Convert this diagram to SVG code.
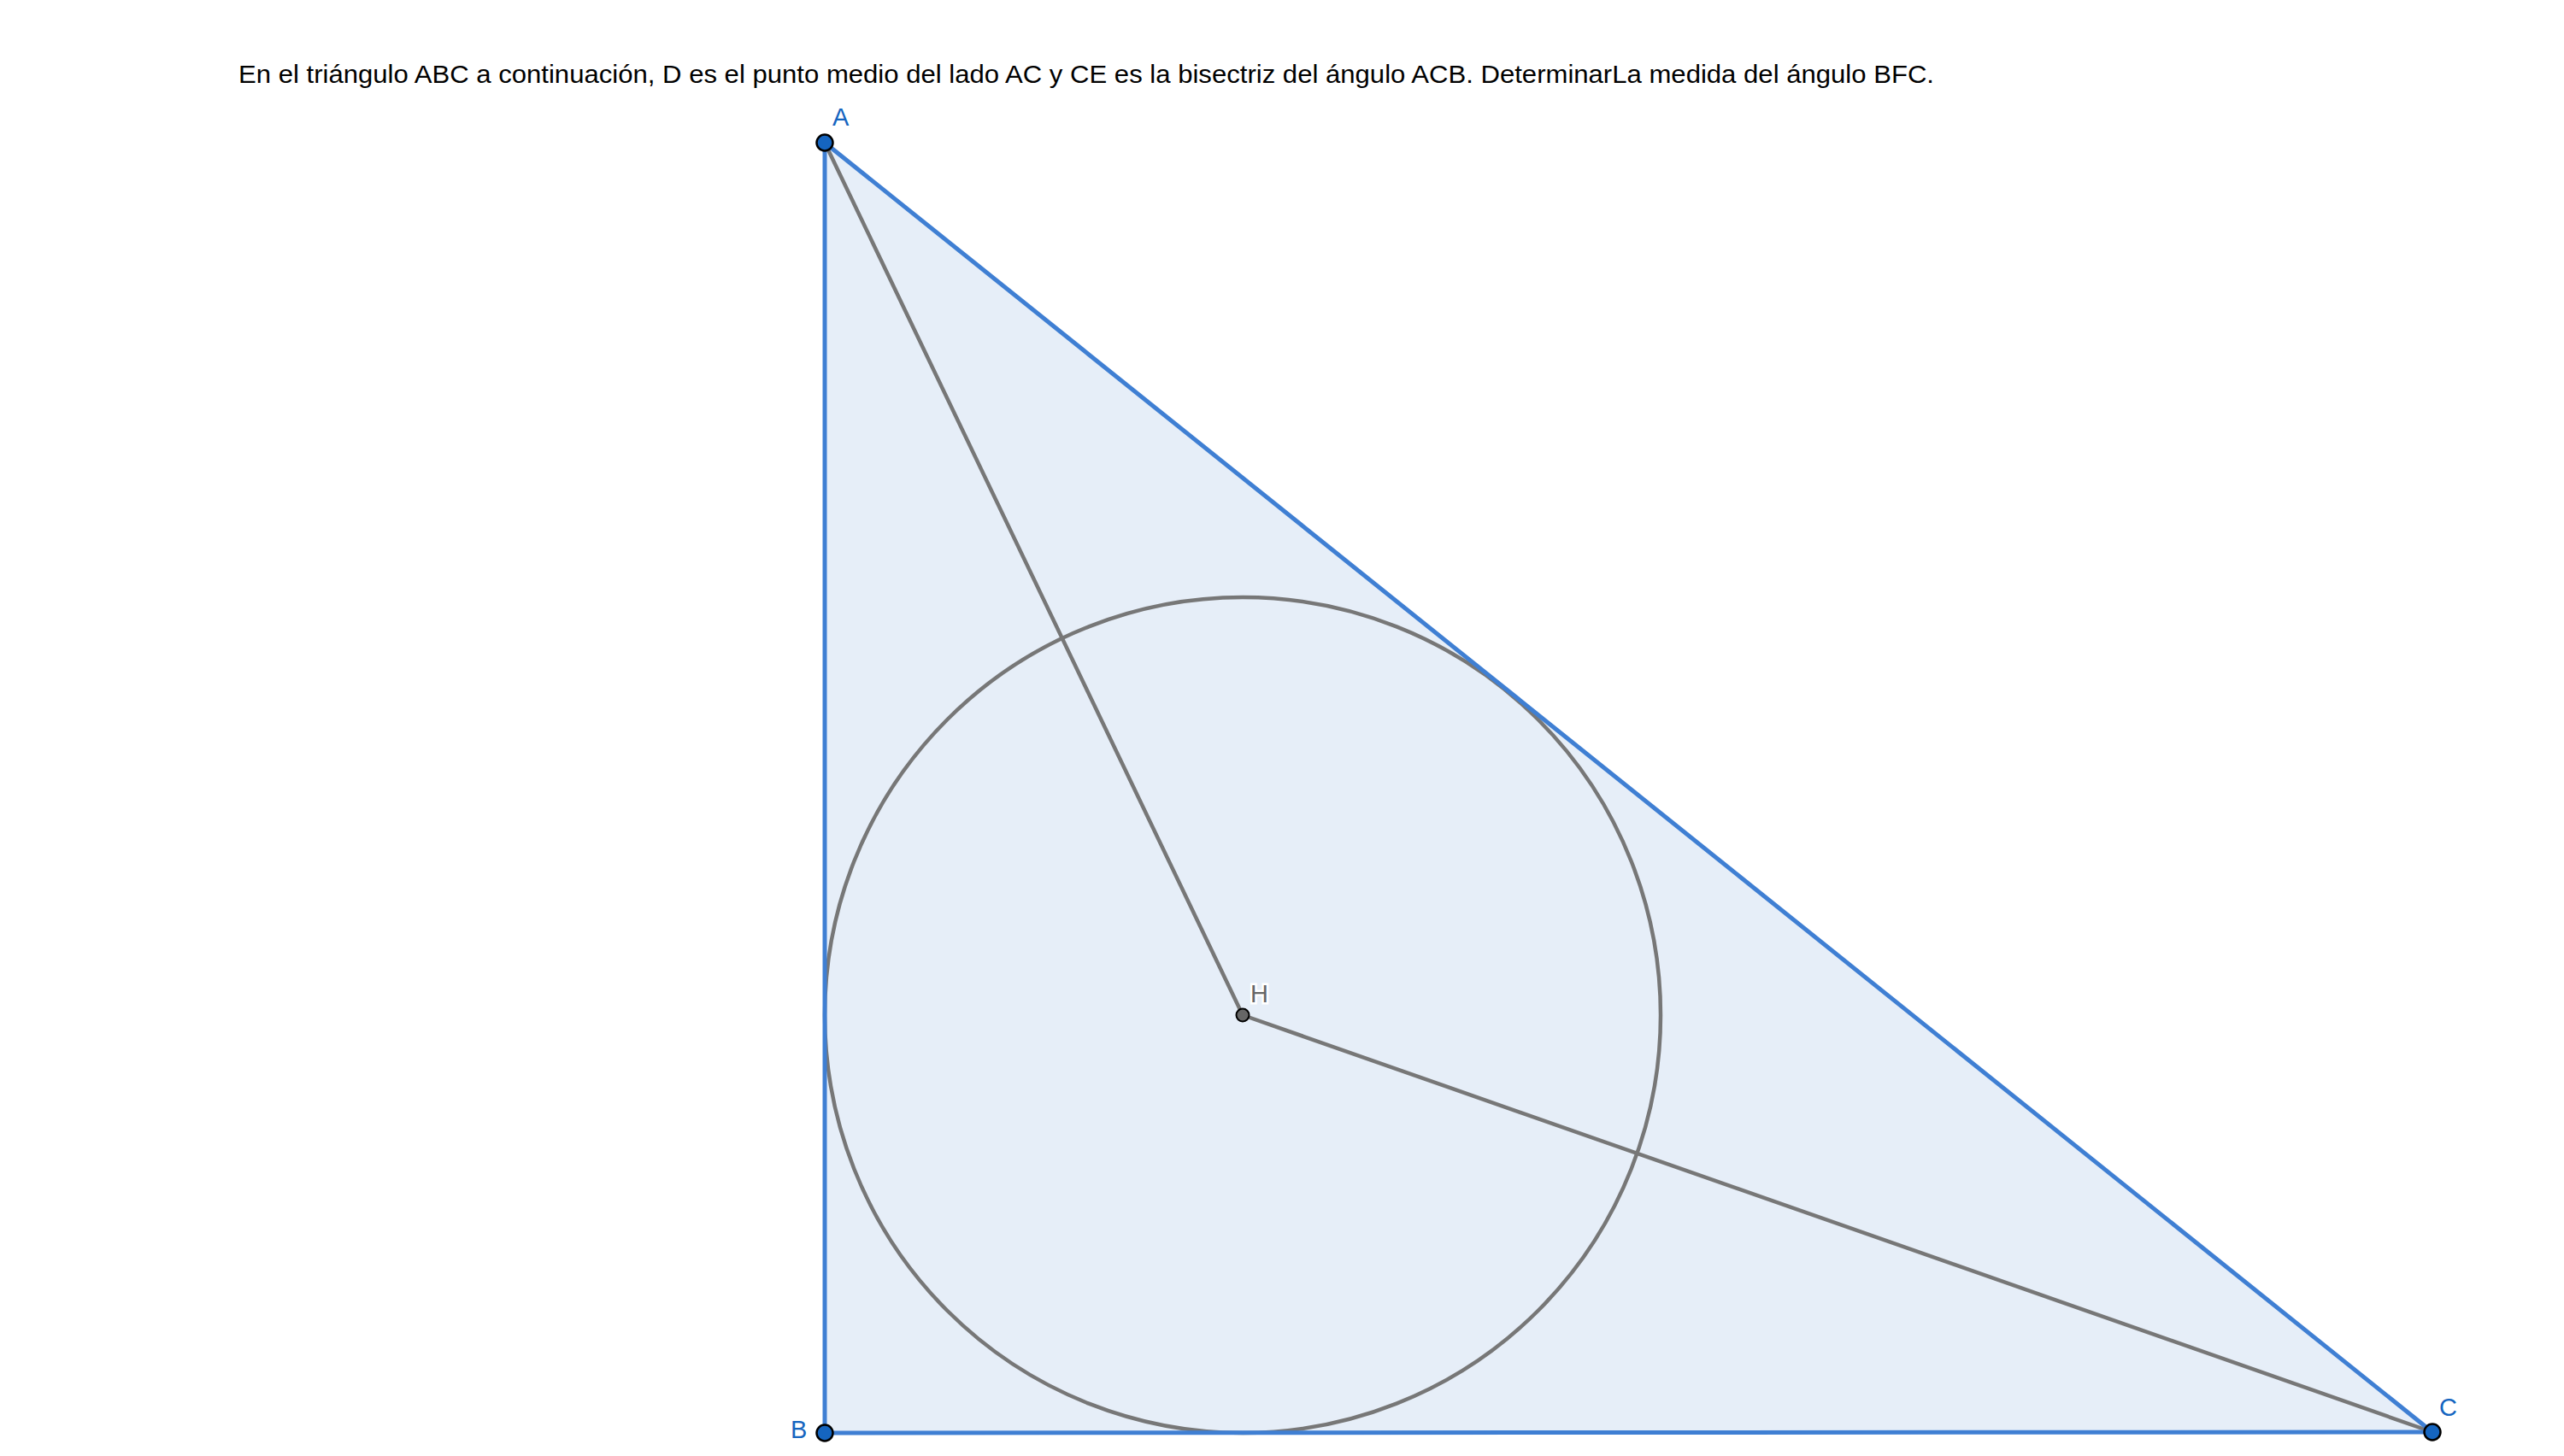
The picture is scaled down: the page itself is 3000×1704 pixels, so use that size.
<svg xmlns="http://www.w3.org/2000/svg" width="3000" height="1704" viewBox="0 0 3000 1704">
<style>
.side{fill:none;stroke:#3f7fd3;stroke-width:5;stroke-linecap:round;stroke-linejoin:round}
.gray{fill:none;stroke:#777;stroke-width:4.5;stroke-linecap:round}
.pt{fill:#1565c0;stroke:#000;stroke-width:2.5}
.lbl{font-family:"Liberation Sans",Arial,sans-serif;font-size:29px;fill:#1565c0}
.title{font-family:"Liberation Sans",Arial,sans-serif;font-size:30px;fill:#000}
</style>
<rect width="3000" height="1704" fill="#fff"/>
<text class="title" x="279" y="97" textLength="1984" lengthAdjust="spacingAndGlyphs">En el triángulo ABC a continuación, D es el punto medio del lado AC y CE es la bisectriz del ángulo ACB. DeterminarLa medida del ángulo BFC.</text>
<g id="triangle-fill">
<polygon points="965,167 965,1677 2846,1676" fill="#e6eef8"/>
</g>
<g id="connectors">
<circle id="incircle" cx="1454" cy="1188" r="489" class="gray"/>
<line x1="965" y1="167" x2="1454" y2="1188" class="gray"/>
<line x1="1454" y1="1188" x2="2846" y2="1676" class="gray"/>
<polygon points="965,167 965,1677 2846,1676" class="side"/>
</g>
<g id="node-A">
<circle cx="965" cy="167" r="9.5" class="pt"/>
<text class="lbl" x="974" y="147">A</text>
</g>
<g id="node-B">
<circle cx="965" cy="1677" r="9.5" class="pt"/>
<text class="lbl" x="925" y="1683">B</text>
</g>
<g id="node-C">
<circle cx="2846" cy="1676" r="9.5" class="pt"/>
<text class="lbl" x="2854" y="1657">C</text>
</g>
<g id="node-H">
<circle cx="1454" cy="1188" r="7.5" fill="#666" stroke="#000" stroke-width="2"/>
<text x="1463" y="1173" font-family="Liberation Sans, Arial, sans-serif" font-size="29" fill="#666" stroke="#fff" stroke-width="5" paint-order="stroke">H</text>
</g>
</svg>
